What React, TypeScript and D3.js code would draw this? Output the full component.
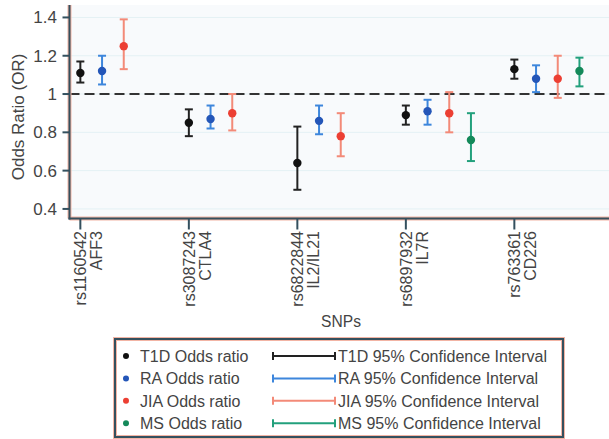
import React from "react";
import * as d3 from "d3";

// SNP categories (two-line labels)
const snps = ["rs1160542", "rs3087243", "rs6822844", "rs6897932", "rs763361"];
const genes = ["AFF3", "CTLA4", "IL2/IL21", "IL7R", "CD226"];

const diseases = ["T1D", "RA", "JIA", "MS"];

// odds ratio per disease, per SNP (null = not reported)
const orT1D = [1.11, 0.85, 0.64, 0.89, 1.13];
const loT1D = [1.06, 0.78, 0.5, 0.84, 1.08];
const hiT1D = [1.17, 0.92, 0.83, 0.94, 1.18];

const orRA = [1.12, 0.87, 0.86, 0.91, 1.08];
const loRA = [1.05, 0.82, 0.79, 0.84, 1.01];
const hiRA = [1.2, 0.94, 0.94, 0.97, 1.15];

const orJIA = [1.25, 0.9, 0.78, 0.9, 1.08];
const loJIA = [1.13, 0.81, 0.675, 0.8, 0.98];
const hiJIA = [1.39, 1.0, 0.9, 1.01, 1.2];

const orMS = [null, null, null, 0.76, 1.12];
const loMS = [null, null, null, 0.65, 1.04];
const hiMS = [null, null, null, 0.9, 1.19];

const yTicks = [0.4, 0.6, 0.8, 1, 1.2, 1.4];

const dotColors = ["#111111", "#2456b8", "#ec3f33", "#14895a"];
const barColors = ["#222222", "#3d86dc", "#f38a78", "#22a07c"];

const series = [
  { or: orT1D, lo: loT1D, hi: hiT1D },
  { or: orRA, lo: loRA, hi: hiRA },
  { or: orJIA, lo: loJIA, hi: hiJIA },
  { or: orMS, lo: loMS, hi: hiMS },
];

const W = 609;
const H = 439;
const font = "Liberation Sans, Arial, sans-serif";

export default function App() {
  const x = d3.scaleLinear().domain([-0.1, 4.9]).range([69.5, 612]);
  const y = d3.scaleLinear().domain([0.35, 1.465]).range([218.5, 5]);
  const left = 69.5;
  const bottom = 218.5;
  const cap = 4;

  return (
    <svg
      width={W}
      height={H}
      style={{ position: "absolute", left: 0, top: 0, background: "#fff" }}
      fontFamily={font}
    >
      {/* plot background */}
      <rect x={left} y={y(1.465)} width={W - left} height={bottom - y(1.465)} fill="#f8fafc" />
      {yTicks.map((t) => (
        <line key={t} x1={left} x2={W} y1={y(t)} y2={y(t)} stroke="#e4f1f4" strokeWidth={1} />
      ))}

      {/* reference line at OR = 1 */}
      <line x1={left} x2={W} y1={y(1)} y2={y(1)} stroke="#333" strokeWidth={2} strokeDasharray="10,5" />

      {/* error bars + points */}
      {series.map((s, j) =>
        s.or.map((v, i) => {
          if (v == null) return null;
          const cx = x(i + j * 0.2);
          const lo = s.lo[i] as number;
          const hi = s.hi[i] as number;
          return (
            <g key={`${j}-${i}`}>
              <line x1={cx} x2={cx} y1={y(lo)} y2={y(hi)} stroke={barColors[j]} strokeWidth={2} />
              <line x1={cx - cap} x2={cx + cap} y1={y(lo)} y2={y(lo)} stroke={barColors[j]} strokeWidth={2} />
              <line x1={cx - cap} x2={cx + cap} y1={y(hi)} y2={y(hi)} stroke={barColors[j]} strokeWidth={2} />
              <circle cx={cx} cy={y(v)} r={4.2} fill={dotColors[j]} />
            </g>
          );
        })
      )}

      {/* axes */}
      <line x1={left} x2={left} y1={y(1.465)} y2={bottom} stroke="#f2b4a4" strokeWidth={4} />
      <line x1={left} x2={W} y1={bottom} y2={bottom} stroke="#f2b4a4" strokeWidth={4} />
      <line x1={left} x2={left} y1={y(1.465)} y2={bottom + 1} stroke="#34505e" strokeWidth={2} />
      <line x1={left - 1} x2={W} y1={bottom} y2={bottom} stroke="#34505e" strokeWidth={2} />

      {yTicks.map((t) => (
        <g key={t}>
          <line x1={left - 7} x2={left} y1={y(t)} y2={y(t)} stroke="#34505e" strokeWidth={2} />
          <text x={57} y={y(t) + 6} textAnchor="end" fontSize={17} fill="#444">
            {t === 1 ? "1" : t.toFixed(1)}
          </text>
        </g>
      ))}
      <text
        transform={`translate(24,117) rotate(-90)`}
        textAnchor="middle"
        fontSize={17}
        fill="#444"
      >
        Odds Ratio (OR)
      </text>

      {snps.map((s, i) => {
        const tx = x(i);
        return (
          <g key={s}>
            <line x1={tx} x2={tx} y1={bottom} y2={bottom + 11} stroke="#34505e" strokeWidth={2} />
            <text transform={`translate(${tx + 6},231) rotate(-90)`} textAnchor="end" fontSize={16} fill="#444">
              {s}
            </text>
            <text transform={`translate(${tx + 22},231) rotate(-90)`} textAnchor="end" fontSize={16} fill="#444">
              {genes[i]}
            </text>
          </g>
        );
      })}
      <text x={341} y={327} textAnchor="middle" fontSize={15.6} fill="#444">
        SNPs
      </text>

      {/* legend */}
      <rect x={115} y={339} width={448} height={98} fill="#fff" stroke="#f2b4a4" strokeWidth={4} />
      <rect x={115} y={339} width={448} height={98} fill="none" stroke="#34505e" strokeWidth={2} />
      {diseases.map((d, j) => {
        const ry = 356 + j * 22.4;
        return (
          <g key={d}>
            <circle cx={126} cy={ry} r={3} fill={dotColors[j]} />
            <text x={140} y={ry + 6} fontSize={16} fill="#444">
              {d} Odds ratio
            </text>
            <line x1={273} x2={335} y1={ry} y2={ry} stroke={barColors[j]} strokeWidth={2} />
            <line x1={273} x2={273} y1={ry - 4} y2={ry + 4} stroke={barColors[j]} strokeWidth={2} />
            <line x1={335} x2={335} y1={ry - 4} y2={ry + 4} stroke={barColors[j]} strokeWidth={2} />
            <text x={338} y={ry + 6} fontSize={16} fill="#444">
              {d} 95% Confidence Interval
            </text>
          </g>
        );
      })}
    </svg>
  );
}
